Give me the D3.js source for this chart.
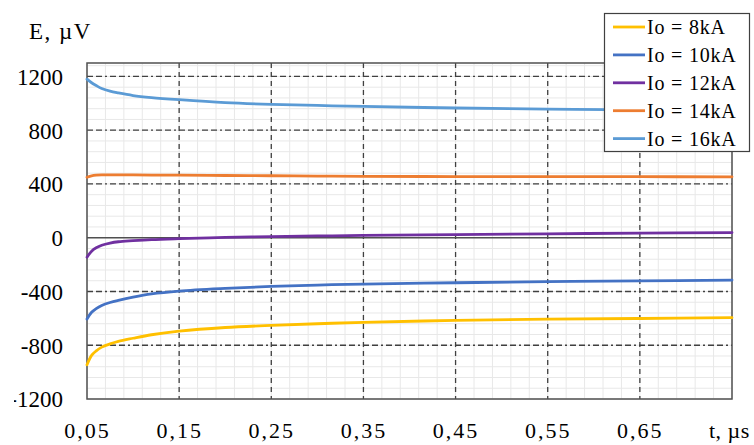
<!DOCTYPE html>
<html><head><meta charset="utf-8">
<script src="https://cdn.jsdelivr.net/npm/d3@7"></script>
<style>body{margin:0;background:#fff}svg{display:block}</style>
</head><body>
<script>
const tValues = [0.05, 0.055, 0.06, 0.066, 0.075, 0.084, 0.1, 0.12, 0.15, 0.2, 0.25, 0.3, 0.35, 0.45, 0.55, 0.65, 0.75];
const seriesNames = ["Io = 8kA", "Io = 10kA", "Io = 12kA", "Io = 14kA", "Io = 16kA"];
const seriesColors = ["#FFC000", "#4472C4", "#7030A0", "#ED7D31", "#5B9BD5"];
const io8  = [-945, -875, -842, -814, -790, -771, -748, -722, -695, -668, -652, -640, -630, -615, -606, -601, -595];
const io10 = [-605, -555, -527, -504, -482, -466, -442, -418, -397, -377, -362, -352, -345, -335, -327, -321, -315];
const io12 = [-145, -100, -75, -56, -40, -30, -22, -14, -7, 2, 8, 13, 17, 23, 29, 34, 38];
const io14 = [450, 461, 466, 468, 468, 467, 467, 466, 465, 463, 461, 459, 457, 455, 454, 454, 453];
const io16 = [1180, 1153, 1132, 1110, 1090, 1077, 1058, 1043, 1027, 1005, 992, 984, 977, 965, 957, 951, 946];
const xTicks = [0.05, 0.15, 0.25, 0.35, 0.45, 0.55, 0.65];
const xTickLabels = ["0,05", "0,15", "0,25", "0,35", "0,45", "0,55", "0,65"];
const yTicks = [-1200, -800, -400, 0, 400, 800, 1200];
const yTickLabels = ["-1200", "-800", "-400", "0", "400", "800", "1200"];
const xDomain = [0.05, 0.75];
const yDomain = [-1200, 1300];

const allSeries = [io8, io10, io12, io14, io16];
const W = 754, H = 445;
const m = {l: 87, r: 732, t: 63, b: 399};
const svg = d3.select("body").append("svg").attr("width", W).attr("height", H)
  .style("font-family", "'Liberation Serif','Times New Roman',serif");

const x = d3.scaleLinear().domain(xDomain).range([m.l, m.r]);
const y = d3.scaleLinear().domain(yDomain).range([m.b, m.t]);

// minor grid
const minorX = d3.range(0.05, 0.7501, 0.02);
const minorY = d3.range(-1200, 1300, 80);
const g = svg.append("g");
g.selectAll(".mx").data(minorX).join("line")
  .attr("x1", d => x(d)).attr("x2", d => x(d)).attr("y1", m.t).attr("y2", m.b)
  .attr("stroke", "#e8e8e8").attr("stroke-width", 1);
g.selectAll(".my").data(minorY).join("line")
  .attr("x1", m.l).attr("x2", m.r).attr("y1", d => y(d)).attr("y2", d => y(d))
  .attr("stroke", "#e8e8e8").attr("stroke-width", 1);

// major grid
g.selectAll(".Mx").data(xTicks.slice(1)).join("line")
  .attr("x1", d => x(d)).attr("x2", d => x(d)).attr("y1", m.t).attr("y2", m.b)
  .attr("stroke", "#404040").attr("stroke-width", 1.3).attr("stroke-dasharray", "5,4");
g.selectAll(".My").data(yTicks.filter(d => d !== 0 && d !== -1200)).join("line")
  .attr("x1", m.l).attr("x2", m.r).attr("y1", d => y(d)).attr("y2", d => y(d))
  .attr("stroke", "#404040").attr("stroke-width", 1.3).attr("stroke-dasharray", "6,3,6,3,2,3");
// zero line
g.append("line").attr("x1", m.l).attr("x2", m.r).attr("y1", y(0)).attr("y2", y(0))
  .attr("stroke", "#505050").attr("stroke-width", 1.5);

// frame
svg.append("rect").attr("x", m.l).attr("y", m.t).attr("width", m.r - m.l).attr("height", m.b - m.t)
  .attr("fill", "none").attr("stroke", "#505050").attr("stroke-width", 1.5);

// lines
const line = d3.line().x((d, i) => x(tValues[i])).y(d => y(d)).curve(d3.curveCatmullRom.alpha(0.5));
allSeries.forEach((s, k) => {
  svg.append("path").datum(s).attr("d", line).attr("fill", "none")
    .attr("stroke", seriesColors[k]).attr("stroke-width", 2.8).attr("stroke-linecap", "round");
});

// axis labels
const xAxis = d3.axisBottom(x).tickValues(xTicks).tickFormat((d, i) => xTickLabels[i]).tickSize(0).tickPadding(0);
const xa = svg.append("g").attr("transform", `translate(0,${m.b})`).call(xAxis);
xa.select(".domain").remove();
xa.selectAll("text").attr("y", 39).attr("dy", 0).attr("fill", "#000")
  .style("font-size", "22px").style("letter-spacing", "2px").style("font-family", "'Liberation Serif',serif");

svg.append("clipPath").attr("id", "yclip").append("rect").attr("x", 14).attr("y", 0).attr("width", 100).attr("height", H);
const yAxis = d3.axisLeft(y).tickValues(yTicks).tickFormat((d, i) => yTickLabels[i]).tickSize(0).tickPadding(0);
const ya = svg.append("g").attr("clip-path", "url(#yclip)").append("g").attr("transform", `translate(63,0)`).call(yAxis);
ya.select(".domain").remove();
ya.selectAll("text").attr("x", 0).attr("dy", "0.34em").attr("fill", "#000")
  .style("font-size", "23px").style("font-family", "'Liberation Serif',serif");

svg.append("text").attr("x", 29).attr("y", 39).text("E, µV")
  .style("font-size", "23px").style("letter-spacing", "1.5px");
svg.append("text").attr("x", 709).attr("y", 438).text("t, µs")
  .style("font-size", "22px").style("letter-spacing", "0.5px");

// legend
const lg = svg.append("g");
lg.append("rect").attr("x", 604.5).attr("y", 13.5).attr("width", 145).attr("height", 138)
  .attr("fill", "#fff").attr("stroke", "#404040").attr("stroke-width", 1.2);
seriesNames.forEach((n, i) => {
  const yy = 27 + i * 27.9;
  lg.append("line").attr("x1", 613).attr("x2", 645).attr("y1", yy).attr("y2", yy)
    .attr("stroke", seriesColors[i]).attr("stroke-width", 2.8);
  lg.append("text").attr("x", 647).attr("y", yy + 7).text(n)
    .style("font-size", "20px").style("letter-spacing", "0.8px");
});
</script>
</body></html>
